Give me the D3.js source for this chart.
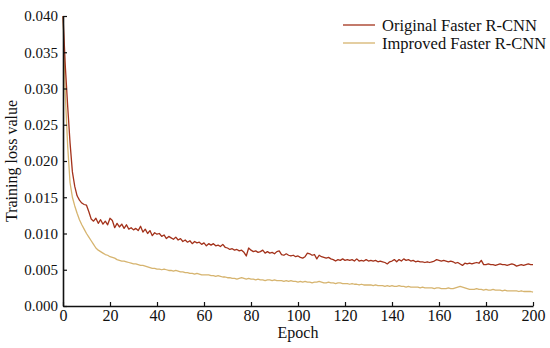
<!DOCTYPE html>
<html>
<head>
<meta charset="utf-8">
<script src="https://cdn.jsdelivr.net/npm/d3@7/dist/d3.min.js"></script>
<style>
  html, body { margin: 0; padding: 0; background: #fff; }
  svg { display: block; font-family: "Liberation Serif", "Times New Roman", serif; }
</style>
</head>
<body>
<div id="chart"></div>
<script>
// ── Data ─────────────────────────────────────────────────────────────────────
const EPOCHS = d3.range(0, 201);

const ORIGINAL = [
  0.0400, 0.0330, 0.0275, 0.0225, 0.0185, 0.0165, 0.0152, 0.0146, 0.0142, 0.0140,
  0.0139, 0.0130, 0.0120, 0.0117, 0.0121, 0.0114, 0.0119, 0.0113, 0.0117, 0.0112,
  0.0121, 0.0118, 0.0108, 0.0114, 0.0109, 0.0113, 0.0107, 0.0112, 0.0106, 0.0108,
  0.0105, 0.0107, 0.0104, 0.0110, 0.0102, 0.0106, 0.0100, 0.0104, 0.0097, 0.0101,
  0.0099, 0.0100, 0.0096, 0.0098, 0.0093, 0.0096, 0.0094, 0.0092, 0.0095, 0.0091,
  0.0093, 0.0089, 0.0091, 0.0088, 0.0090, 0.0086, 0.0089, 0.0087, 0.0088, 0.0085,
  0.0087, 0.0083, 0.0086, 0.0084, 0.0086, 0.0083, 0.0084, 0.0082, 0.0085, 0.0081,
  0.0080, 0.0078, 0.0079, 0.0077, 0.0078, 0.0076, 0.0077, 0.0074, 0.0069, 0.0080,
  0.0077, 0.0075, 0.0076, 0.0074, 0.0075, 0.0077, 0.0073, 0.0075, 0.0073, 0.0074,
  0.0072, 0.0075, 0.0076, 0.0071, 0.0070, 0.0072, 0.0070, 0.0069, 0.0070, 0.0068,
  0.0069, 0.0067, 0.0066, 0.0068, 0.0073, 0.0072, 0.0070, 0.0071, 0.0065, 0.0070,
  0.0068, 0.0067, 0.0066, 0.0067, 0.0065, 0.0064, 0.0062, 0.0064, 0.0063, 0.0065,
  0.0063, 0.0064, 0.0063, 0.0064, 0.0062, 0.0065, 0.0062, 0.0063, 0.0062, 0.0064,
  0.0062, 0.0063, 0.0062, 0.0063, 0.0061, 0.0062, 0.0061, 0.0060, 0.0058, 0.0061,
  0.0062, 0.0064, 0.0061, 0.0064, 0.0062, 0.0065, 0.0063, 0.0064, 0.0062, 0.0063,
  0.0061, 0.0062, 0.0061, 0.0061, 0.0060, 0.0061, 0.0060, 0.0061, 0.0062, 0.0064,
  0.0063, 0.0062, 0.0063, 0.0062, 0.0061, 0.0062, 0.0061, 0.0059, 0.0060, 0.0058,
  0.0056, 0.0059, 0.0058, 0.0059, 0.0058, 0.0059, 0.0060, 0.0059, 0.0063, 0.0057,
  0.0057, 0.0058, 0.0057, 0.0057, 0.0056, 0.0057, 0.0058, 0.0057, 0.0057, 0.0056,
  0.0057, 0.0058, 0.0057, 0.0055, 0.0056, 0.0057, 0.0056, 0.0057, 0.0058, 0.0057,
  0.0057
];

const IMPROVED = [
  0.0400, 0.0290, 0.0220, 0.0170, 0.0150, 0.0138, 0.0128, 0.0119, 0.0112, 0.0106,
  0.0100, 0.0095, 0.0090, 0.0085, 0.0080, 0.0077, 0.0075, 0.0073, 0.0071, 0.0070,
  0.0068, 0.0067, 0.0066, 0.0064, 0.0063, 0.0062, 0.0062, 0.0061, 0.0060, 0.0059,
  0.0058, 0.0058, 0.0057, 0.0056, 0.0056, 0.0055, 0.0054, 0.0053, 0.0052, 0.0052,
  0.0051, 0.0051, 0.0050, 0.0051, 0.0050, 0.0049, 0.0049, 0.0048, 0.0049, 0.0048,
  0.0047, 0.0047, 0.0046, 0.0046, 0.0045, 0.0045, 0.0044, 0.0045, 0.0044, 0.0043,
  0.0043, 0.0043, 0.0043, 0.0042, 0.0042, 0.0041, 0.0042, 0.0041, 0.0040, 0.0040,
  0.0039, 0.0039, 0.0038, 0.0038, 0.0037, 0.0038, 0.0039, 0.0038, 0.0037, 0.0038,
  0.0037, 0.0037, 0.0036, 0.0037, 0.0036, 0.0036, 0.0035, 0.0036, 0.0036, 0.0035,
  0.0036, 0.0035, 0.0035, 0.0035, 0.0034, 0.0035, 0.0034, 0.0035, 0.0034, 0.0034,
  0.0033, 0.0034, 0.0033, 0.0034, 0.0033, 0.0033, 0.0032, 0.0033, 0.0033, 0.0034,
  0.0033, 0.0032, 0.0032, 0.0033, 0.0032, 0.0032, 0.0031, 0.0032, 0.0032, 0.0031,
  0.0031, 0.0031, 0.0030, 0.0031, 0.0030, 0.0030, 0.0029, 0.0030, 0.0029, 0.0029,
  0.0029, 0.0029, 0.0028, 0.0029, 0.0028, 0.0028, 0.0028, 0.0027, 0.0028, 0.0027,
  0.0028, 0.0027, 0.0027, 0.0028, 0.0027, 0.0027, 0.0026, 0.0027, 0.0026, 0.0026,
  0.0026, 0.0026, 0.0025, 0.0026, 0.0025, 0.0025, 0.0025, 0.0025, 0.0024, 0.0025,
  0.0025, 0.0024, 0.0024, 0.0024, 0.0025, 0.0024, 0.0024, 0.0025, 0.0026, 0.0027,
  0.0026, 0.0025, 0.0024, 0.0023, 0.0023, 0.0023, 0.0024, 0.0023, 0.0023, 0.0022,
  0.0023, 0.0022, 0.0022, 0.0023, 0.0022, 0.0022, 0.0022, 0.0021, 0.0022, 0.0021,
  0.0021, 0.0021, 0.0021, 0.0021, 0.0020, 0.0021, 0.0020, 0.0020, 0.0020, 0.0020,
  0.0019
];

const X_TICKS = [0, 20, 40, 60, 80, 100, 120, 140, 160, 180, 200];
const Y_TICKS = [0, 0.005, 0.010, 0.015, 0.020, 0.025, 0.030, 0.035, 0.040];

const SERIES = [
  { name: 'Original Faster R-CNN', values: ORIGINAL, color: '#a3321b' },
  { name: 'Improved Faster R-CNN', values: IMPROVED, color: '#d6b46f' },
];

// ── Layout ───────────────────────────────────────────────────────────────────
const W = 550, H = 348;
const margin = { top: 16, right: 17, bottom: 42, left: 63 };
const iW = W - margin.left - margin.right;
const iH = H - margin.top - margin.bottom;
const FS = '16px';

const x = d3.scaleLinear().domain([0, 200]).range([0, iW]);
const y = d3.scaleLinear().domain([0, 0.04]).range([iH, 0]);

const svg = d3.select('#chart').append('svg')
  .attr('width', W).attr('height', H);

const g = svg.append('g')
  .attr('transform', `translate(${margin.left},${margin.top})`);

// Lines
const line = d3.line()
  .x((d, i) => x(EPOCHS[i]))
  .y(d => y(d));

SERIES.slice().reverse().forEach(s => {
  g.append('path')
    .datum(s.values)
    .attr('fill', 'none')
    .attr('stroke', s.color)
    .attr('stroke-width', 1.3)
    .attr('stroke-linejoin', 'round')
    .attr('d', line);
});

// Axes (ticks point inward)
const xAxis = g.append('g')
  .attr('transform', `translate(0,${iH})`)
  .call(d3.axisBottom(x).tickValues(X_TICKS).tickSizeInner(-4).tickSizeOuter(0).tickPadding(4)
    .tickFormat(d3.format('d')));

const yAxis = g.append('g')
  .call(d3.axisLeft(y).tickValues(Y_TICKS).tickSizeInner(-4).tickSizeOuter(0).tickPadding(5)
    .tickFormat(d3.format('.3f')));

[xAxis, yAxis].forEach(a => {
  a.select('.domain').attr('stroke', '#111').attr('stroke-width', 1.6);
  a.selectAll('.tick line').attr('stroke', '#111').attr('stroke-width', 1.2);
  a.selectAll('.tick text')
    .attr('fill', '#111')
    .style('font-family', '"Liberation Serif", serif')
    .style('font-size', a === yAxis ? '15px' : FS);
});

// Axis titles
svg.append('text')
  .attr('x', margin.left + iW / 2)
  .attr('y', 338)
  .attr('text-anchor', 'middle')
  .attr('fill', '#111')
  .style('font-size', FS)
  .text('Epoch');

svg.append('text')
  .attr('transform', `translate(17,${margin.top + iH / 2}) rotate(-90)`)
  .attr('text-anchor', 'middle')
  .attr('fill', '#111')
  .style('font-size', FS)
  .text('Training loss value');

// Legend
const lg = svg.append('g').attr('transform', 'translate(343,25)');
SERIES.forEach((s, i) => {
  const row = lg.append('g').attr('transform', `translate(0,${i * 18})`);
  row.append('line')
    .attr('x1', 0).attr('x2', 32)
    .attr('stroke', s.color).attr('stroke-width', 1.3);
  row.append('text')
    .attr('x', 39).attr('y', 0)
    .attr('dominant-baseline', 'central')
    .attr('fill', '#111')
    .style('font-size', '16.5px')
    .text(s.name);
});
</script>
</body>
</html>
